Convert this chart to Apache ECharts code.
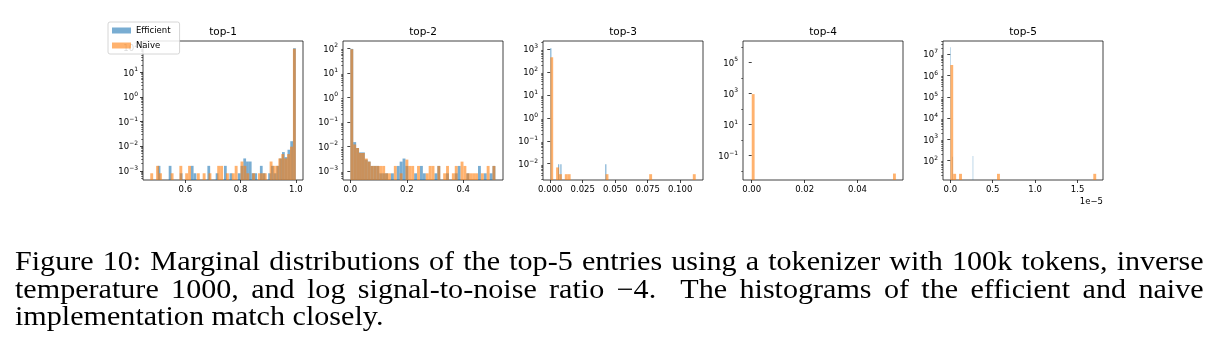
<!DOCTYPE html>
<html>
<head>
<meta charset="utf-8">
<script src="https://cdn.jsdelivr.net/npm/echarts@6/dist/echarts.min.js"></script>
<style>
html, body { margin: 0; padding: 0; background: #fff; }
#chart { position: absolute; left: 0; top: 0; width: 1219px; height: 360px; }
#caption {
  position: absolute; left: 15px; top: 248px; width: 1066px;
  transform: scaleX(1.115); transform-origin: 0 0;
  font-family: 'Liberation Serif', serif; font-size: 27px; line-height: 27.5px; color: #000;
}
#caption div { text-align: justify; text-align-last: justify; }
#caption div.last { text-align-last: left; }
</style>
</head>
<body>
<div id="chart"></div>
<div id="caption">
  <div>Figure 10: Marginal distributions of the top-5 entries using a tokenizer with 100k tokens, inverse</div>
  <div>temperature 1000, and log signal-to-noise ratio &minus;4.&nbsp; The histograms of the efficient and naive</div>
  <div class="last">implementation match closely.</div>
</div>
<script>
const panelTitles = ['top-1', 'top-2', 'top-3', 'top-4', 'top-5']
const seriesNames = ['Efficient', 'Naive']
const nBins = 50

// histogram ranges [lo, hi] per panel (top-5 in units of 1e-5)
const efficientRanges = [[0.50, 1.00], [0, 0.514], [0, 0.0432], [0, 0.000055], [0, 0.27]]
const naiveRanges = [[0.4733, 1.00], [0, 0.514], [0, 0.112], [0, 0.0545], [0, 1.72]]

// densities, sparse: [bin index, density]
const top1Efficient = [[0, 0.0016], [4, 0.0016], [8, 0.0008], [12, 0.0016], [13, 0.0008], [18, 0.0016],
  [21, 0.0008], [24, 0.0016], [26, 0.0008], [29, 0.0008], [30, 0.0016], [31, 0.0032], [32, 0.0024],
  [33, 0.0024], [34, 0.0008], [35, 0.0008], [37, 0.0016], [38, 0.0008], [40, 0.0008], [41, 0.0016],
  [42, 0.0008], [43, 0.0016], [44, 0.0032], [45, 0.0058], [46, 0.0036], [47, 0.0072], [48, 0.016], [49, 95]]
const top1Naive = [[0, 0.0008], [2, 0.0016], [3, 0.0008], [7, 0.0008], [10, 0.0016], [12, 0.0008],
  [13, 0.0016], [16, 0.0008], [18, 0.0008], [20, 0.0008], [23, 0.0016], [24, 0.0016], [26, 0.0008],
  [28, 0.0008], [29, 0.0016], [31, 0.0024], [32, 0.0016], [33, 0.0008], [35, 0.0008], [37, 0.0008],
  [38, 0.0008], [39, 0.0008], [41, 0.0024], [42, 0.0016], [43, 0.0016], [44, 0.0032], [45, 0.0048],
  [46, 0.0032], [47, 0.0048], [48, 0.0096], [49, 90]]
const top2Efficient = [[0, 95], [1, 0.015], [2, 0.0086], [3, 0.0057], [4, 0.0057], [5, 0.0029], [6, 0.0024],
  [7, 0.0016], [8, 0.0016], [9, 0.0016], [10, 0.0008], [11, 0.0008], [12, 0.0008], [14, 0.0008],
  [16, 0.0016], [17, 0.0024], [18, 0.0032], [19, 0.0016], [22, 0.0008], [24, 0.0016], [25, 0.0008],
  [29, 0.0008], [30, 0.0016], [33, 0.0008], [36, 0.0008], [37, 0.0016], [40, 0.0008], [44, 0.0016],
  [46, 0.0008], [48, 0.0008], [49, 0.0016]]
const top2Naive = [[0, 92], [1, 0.012], [2, 0.0086], [3, 0.0054], [4, 0.0054], [5, 0.0032], [6, 0.0024],
  [7, 0.0016], [8, 0.0016], [9, 0.0016], [10, 0.0016], [11, 0.0016], [12, 0.0008], [13, 0.0008],
  [15, 0.0016], [17, 0.0008], [19, 0.0029], [20, 0.0016], [21, 0.0016], [23, 0.0016], [26, 0.0008],
  [27, 0.0016], [28, 0.0016], [30, 0.0016], [32, 0.0008], [33, 0.0016], [35, 0.0008], [36, 0.0016],
  [38, 0.0024], [39, 0.0016], [40, 0.0008], [41, 0.0008], [42, 0.0008], [43, 0.0008], [45, 0.0008],
  [47, 0.0016], [49, 0.0016]]
const top3Efficient = [[0, 1100], [7, 0.0094], [9, 0.0094], [49, 0.0094]]
const top3Naive = [[0, 446], [2, 0.0069], [3, 0.0035], [5, 0.0035], [6, 0.0035], [19, 0.0035], [34, 0.0035], [49, 0.0035]]
const top4Efficient = [[0, 900000]]
const top4Naive = [[0, 900], [49, 0.0070]]
const top5Efficient = [[0, 21000000], [4, 154], [49, 166]]
const top5Naive = [[0, 3100000], [1, 24], [3, 24], [16, 24], [49, 24]]

const efficientBins = [top1Efficient, top2Efficient, top3Efficient, top4Efficient, top5Efficient]
const naiveBins = [top1Naive, top2Naive, top3Naive, top4Naive, top5Naive]

// axes
const xMin = [0.447, -0.026, -0.0056, -0.0033, -0.086]
const xMax = [1.026, 0.541, 0.1176, 0.0572, 1.80]
const xTicks = [[0.6, 0.8, 1.0], [0.0, 0.2, 0.4], [0, 0.025, 0.05, 0.075, 0.1], [0, 0.02, 0.04], [0, 0.5, 1.0, 1.5]]
const xDecimals = [1, 1, 3, 2, 1]
const yMinExp = [-3.37, -3.37, -2.71, -2.57, 1.09]
const yMaxExp = [2.27, 2.30, 3.36, 6.37, 7.62]
const yTickExps = [[-3, -2, -1, 0, 1, 2], [-3, -2, -1, 0, 1, 2], [-2, -1, 0, 1, 2, 3], [-1, 1, 3, 5], [2, 3, 4, 5, 6, 7]]

const colors = ['rgba(31,119,180,0.6)', 'rgba(255,127,14,0.6)']
const font = 'DejaVu Sans'

function toBars(range, bins) {
  const w = (range[1] - range[0]) / nBins
  return bins.map(b => [range[0] + b[0] * w, range[0] + (b[0] + 1) * w, b[1]])
}

function minorTicks(p) {
  const lo = yMinExp[p], hi = yMaxExp[p]
  const out = []
  for (let e = Math.floor(lo); e <= Math.ceil(hi); e++) {
    if (p === 3) {
      if (yTickExps[p].indexOf(e) < 0 && e >= lo && e <= hi) out.push(Math.pow(10, e))
      continue
    }
    for (let k = 2; k <= 9; k++) {
      const v = k * Math.pow(10, e)
      const le = Math.log10(v)
      if (le >= lo && le <= hi) out.push(v)
    }
  }
  return out
}

function supLabel(v) {
  const e = Math.round(Math.log10(v))
  return '{b|10}{s|' + (e < 0 ? '\u2212' + (-e) : e) + '}'
}

const grids = [], xAxes = [], yAxes = [], titles = [], series = []
for (let p = 0; p < 5; p++) {
  const left = 143 + 200 * p
  grids.push({ left: left, top: 41, width: 160, height: 139, show: true, borderColor: '#111', borderWidth: 0.8, containLabel: false })
  titles.push({
    text: panelTitles[p], left: left + 80, top: 27, textAlign: 'center', padding: 0,
    textStyle: { fontFamily: font, fontSize: 10.5, fontWeight: 'normal', color: '#000' }
  })
  xAxes.push({
    type: 'value', gridIndex: p, min: xMin[p], max: xMax[p],
    axisLine: { show: false }, splitLine: { show: false },
    axisTick: { show: true, length: 3, customValues: xTicks[p], lineStyle: { color: '#111', width: 0.8 } },
    axisLabel: {
      customValues: xTicks[p], margin: 5, color: '#000', fontFamily: font, fontSize: 8.5,
      formatter: (function (d) { return function (v) { return v.toFixed(d) } })(xDecimals[p])
    }
  })
  const yBase = {
    type: 'log', logBase: 10, gridIndex: p, position: 'left', offset: 0,
    min: Math.pow(10, yMinExp[p]), max: Math.pow(10, yMaxExp[p]),
    axisLine: { show: false }, splitLine: { show: false }
  }
  yAxes.push(Object.assign({}, yBase, {
    axisTick: { show: true, length: 3, customValues: yTickExps[p].map(e => Math.pow(10, e)), lineStyle: { color: '#111', width: 0.8 } },
    axisLabel: {
      customValues: yTickExps[p].map(e => Math.pow(10, e)), margin: 5, color: '#000',
      formatter: supLabel,
      rich: {
        b: { fontFamily: font, fontSize: 8.5, color: '#000', lineHeight: 11, verticalAlign: 'bottom' },
        s: { fontFamily: font, fontSize: 6, color: '#000', lineHeight: 11, verticalAlign: 'top', padding: [0, 0, 4, 0] }
      }
    }
  }))
  yAxes.push(Object.assign({}, yBase, {
    axisTick: { show: true, length: 1.8, customValues: minorTicks(p), lineStyle: { color: '#111', width: 0.6 } },
    axisLabel: { show: false }
  }))
  const base = Math.pow(10, yMinExp[p])
  const ranges = [efficientRanges[p], naiveRanges[p]]
  const bins = [efficientBins[p], naiveBins[p]]
  for (let s = 0; s < 2; s++) {
    series.push({
      name: seriesNames[s], type: 'custom', xAxisIndex: p, yAxisIndex: p * 2,
      color: colors[s], itemStyle: { color: colors[s] }, clip: true,
      encode: { x: [0, 1], y: 2 },
      data: toBars(ranges[s], bins[s]),
      renderItem: (function (col) {
        return function (params, api) {
          const a = api.coord([api.value(0), base])
          const b = api.coord([api.value(1), api.value(2)])
          return {
            type: 'rect',
            shape: { x: a[0], y: b[1], width: b[0] - a[0], height: a[1] - b[1] },
            style: { fill: col }
          }
        }
      })(colors[s])
    })
  }
}

const myChart = echarts.init(document.getElementById('chart'), null, { renderer: 'canvas' })
myChart.setOption({
  animation: false,
  backgroundColor: '#fff',
  title: titles,
  grid: grids,
  xAxis: xAxes,
  yAxis: yAxes,
  legend: {
    data: seriesNames, left: 108, top: 22, orient: 'vertical', z: 10,
    itemWidth: 19, itemHeight: 6, itemGap: 6, padding: [4, 9, 4, 4],
    icon: 'rect', backgroundColor: 'rgba(255,255,255,0.85)', borderColor: '#ccc', borderWidth: 0.8, borderRadius: 2,
    textStyle: { fontFamily: font, fontSize: 8.5, color: '#000' }
  },
  graphic: [{
    type: 'text', right: 1219 - 1103, top: 197,
    style: { text: '1e\u22125', fontFamily: font, fontSize: 8.5, fill: '#000' }
  }],
  series: series
})
</script>
</body>
</html>
